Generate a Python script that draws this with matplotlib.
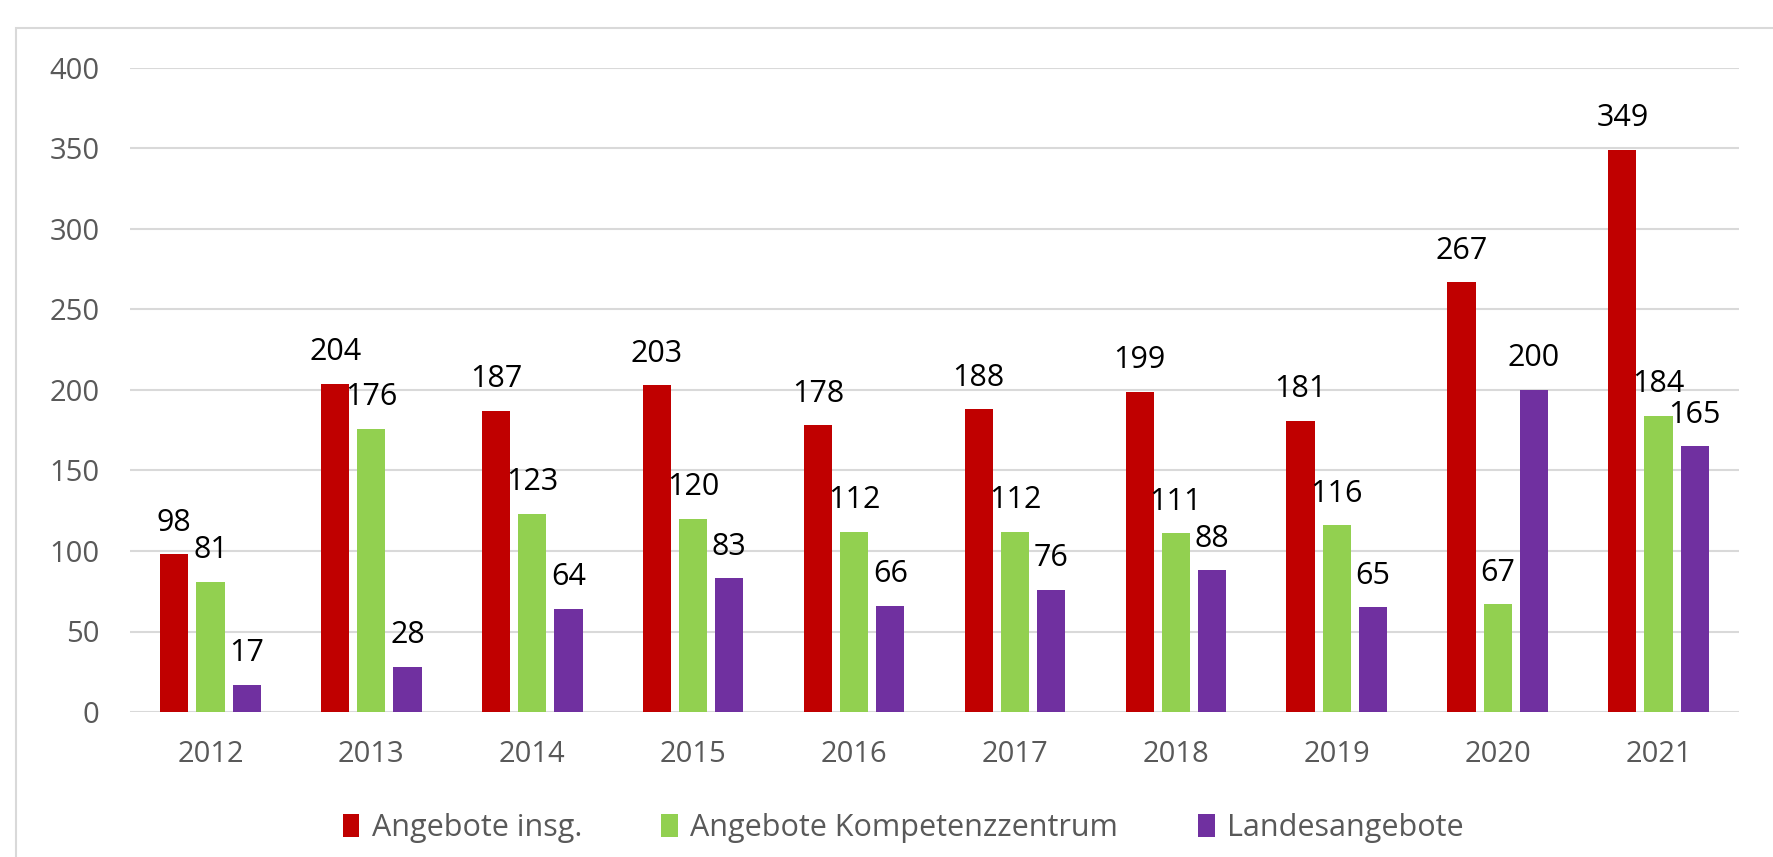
import numpy as np
import matplotlib.pyplot as plt
from matplotlib.patches import Rectangle

# data
years = ["2012", "2013", "2014", "2015", "2016", "2017", "2018", "2019", "2020", "2021"]
insgesamt = [98, 204, 187, 203, 178, 188, 199, 181, 267, 349]
kompetenz = [81, 176, 123, 120, 112, 112, 111, 116, 67, 184]
landes = [17, 28, 64, 83, 66, 76, 88, 65, 200, 165]

series = [
    ("Angebote insg.", insgesamt, "#C00000"),
    ("Angebote Kompetenzzentrum", kompetenz, "#92D050"),
    ("Landesangebote", landes, "#7030A0"),
]

plt.rcParams['font.family'] = ['Open Sans', 'DejaVu Sans']

fig = plt.figure(figsize=(17.73, 8.57), dpi=100)
ax = fig.add_axes([130 / 1773, 1 - 712 / 857, (1739 - 130) / 1773, (712 - 68) / 857])

# light chart-area border
fig.patches.append(Rectangle((16 / 1773, -0.1), 1.2, 1 - 28 / 857 + 0.1,
                             transform=fig.transFigure, fill=False,
                             edgecolor="#D9D9D9", linewidth=1.5, zorder=0))

x = np.arange(len(years))
width = 0.175
step = 0.225
for i, (name, vals, color) in enumerate(series):
    pos = x + (i - 1) * step
    ax.bar(pos, vals, width, color=color, label=name, zorder=3)
    for xp, v in zip(pos, vals):
        ax.annotate(str(v), (xp, v), xytext=(0, 17), textcoords="offset points",
                    ha="center", va="baseline", fontsize=22, color="black", zorder=4)

ax.set_xlim(-0.5, len(years) - 0.5)
ax.set_ylim(0, 400)
ax.set_yticks(range(0, 401, 50))
ax.set_xticks(x)
ax.set_xticklabels(years)
ax.yaxis.grid(True, color="#D9D9D9", linewidth=1.5, zorder=0)
ax.set_axisbelow(True)
for s in ax.spines.values():
    s.set_visible(False)
ax.tick_params(axis="both", length=0, labelsize=21, labelcolor="#595959")
ax.tick_params(axis="y", pad=22)
ax.tick_params(axis="x", pad=20)

fig.legend(loc="center", bbox_to_anchor=(903 / 1773, 1 - 828 / 857), ncol=3,
           frameon=False, fontsize=22, labelcolor="#595959",
           handlelength=0.55, handleheight=0.8, handletextpad=0.4, columnspacing=2.6)

fig.savefig("out.png", dpi=100)
